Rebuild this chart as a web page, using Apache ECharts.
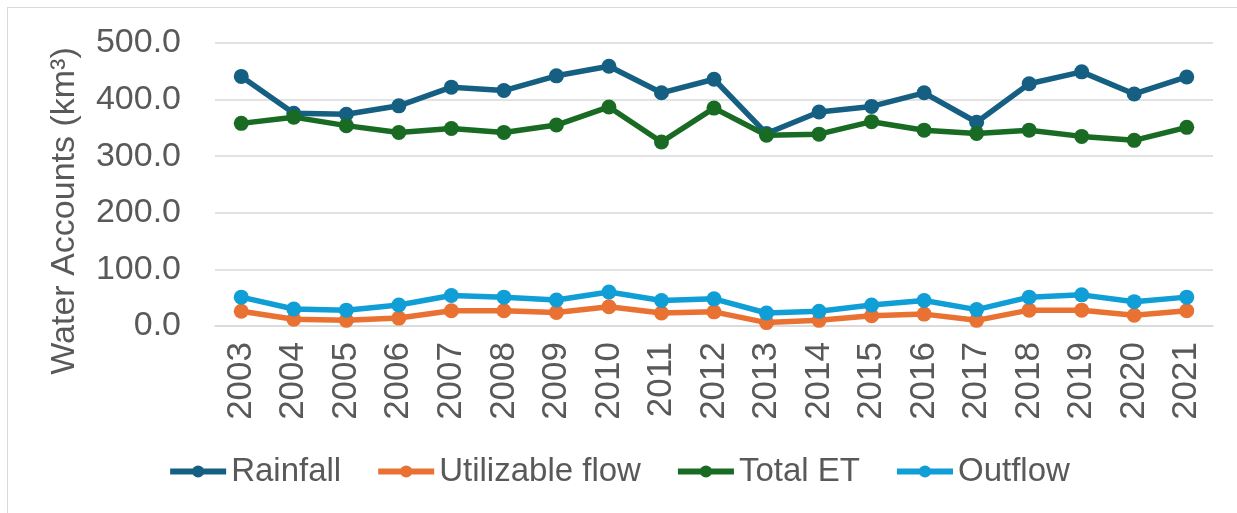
<!DOCTYPE html>
<html>
<head>
<meta charset="utf-8">
<script src="https://cdn.jsdelivr.net/npm/echarts@6/dist/echarts.min.js"></script>
<style>
  html, body { margin: 0; padding: 0; background: #fff; }
  #frame {
    position: absolute; left: 7px; top: 7px; width: 1240px; height: 520px;
    border-left: 1.5px solid #d9d9d9; border-top: 1.5px solid #d9d9d9;
  }
  #chart { position: absolute; left: 0; top: 0; width: 1237px; height: 513px; }
</style>
</head>
<body>
<div id="frame"></div>
<div id="chart"></div>
<script>
// years along the x axis
var years = ['2003','2004','2005','2006','2007','2008','2009','2010','2011','2012',
             '2013','2014','2015','2016','2017','2018','2019','2020','2021'];

// values in km3
var rainfall   = [441, 376, 374, 389, 422, 416, 442, 459, 412, 436, 340, 378, 388, 412, 360, 428, 449, 410, 440];
var utilizable = [26, 12, 10, 14, 27, 27, 24, 34, 23, 25, 6, 10, 18, 21, 10, 28, 28, 19, 27];
var totalET    = [358, 369, 354, 342, 349, 342, 355, 387, 325, 385, 337, 339, 361, 346, 340, 346, 335, 328, 351];
var outflow    = [51, 30, 28, 37, 54, 51, 46, 60, 45, 48, 23, 26, 37, 45, 29, 51, 55, 43, 51];

var yTicks = { min: 0, max: 500, interval: 100 };

var txt = '#595959';
var font = '"Liberation Sans", Arial, sans-serif';

function line(name, data, color) {
  return {
    name: name,
    type: 'line',
    data: data,
    symbol: 'circle',
    symbolSize: 15,
    color: color,
    lineStyle: { width: 5.5, color: color },
    itemStyle: { color: color },
    animation: false
  };
}

var chart = echarts.init(document.getElementById('chart'));
chart.setOption({
  backgroundColor: 'transparent',
  textStyle: { fontFamily: font, color: txt },
  grid: { left: 215, right: 24, top: 43, bottom: 187 },
  legend: {
    bottom: 20,
    left: 'center',
    itemWidth: 56,
    itemHeight: 15,
    itemGap: 34,
    lineStyle: { width: 6 },
    textStyle: { fontSize: 33, color: txt, fontFamily: font },
    data: ['Rainfall', 'Utilizable flow', 'Total ET', 'Outflow']
  },
  graphic: [{
    type: 'text',
    x: 65,
    y: 211,
    rotation: Math.PI / 2,
    style: {
      text: 'Water Accounts (km³)',
      fontSize: 34,
      fill: txt,
      fontFamily: font,
      textAlign: 'center',
      textVerticalAlign: 'middle'
    }
  }],
  xAxis: {
    type: 'category',
    data: years,
    boundaryGap: true,
    axisLine: { show: true, lineStyle: { color: '#d9d9d9', width: 1.5 } },
    axisTick: { show: false },
    axisLabel: { rotate: 90, fontSize: 35, color: txt, margin: 16, fontFamily: font }
  },
  yAxis: {
    type: 'value',
    min: yTicks.min,
    max: yTicks.max,
    interval: yTicks.interval,
    axisLine: { show: false },
    axisTick: { show: false },
    splitLine: { lineStyle: { color: '#d9d9d9', width: 1.5 } },
    axisLabel: {
      fontSize: 34, color: txt, margin: 34, fontFamily: font,
      formatter: function (v) { return v.toFixed(1); }
    }
  },
  series: [
    line('Rainfall', rainfall, '#156082'),
    line('Utilizable flow', utilizable, '#E97132'),
    line('Total ET', totalET, '#196B24'),
    line('Outflow', outflow, '#0F9ED5')
  ]
});
</script>
</body>
</html>
